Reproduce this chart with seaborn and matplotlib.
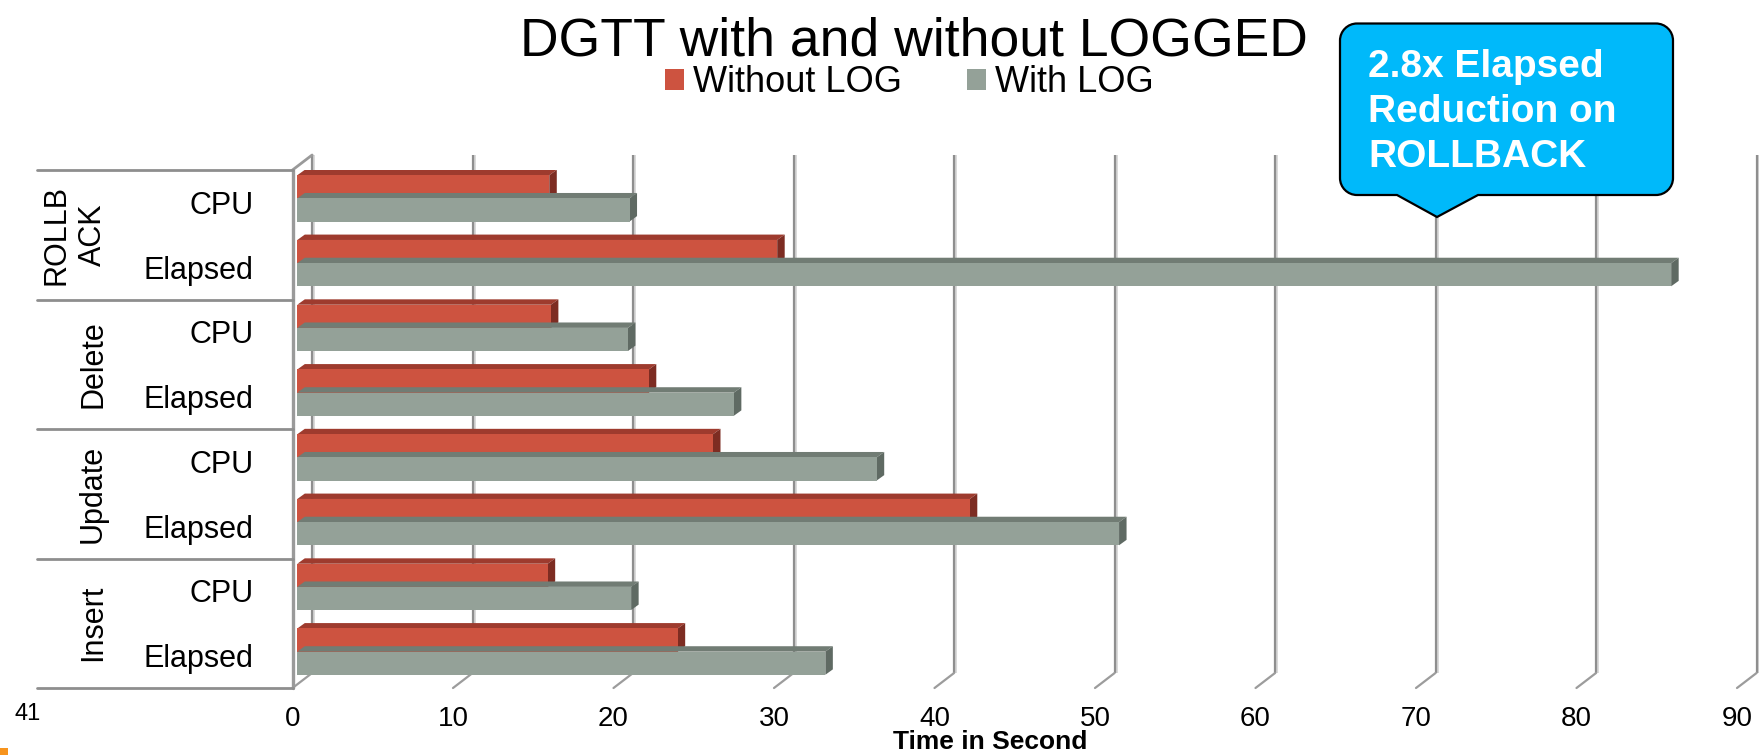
import matplotlib
matplotlib.use("Agg")
import matplotlib.pyplot as plt
import numpy as np
import pandas as pd
import seaborn as sns
from matplotlib.transforms import ScaledTranslation, Affine2D
from matplotlib.patches import Polygon, PathPatch, Rectangle
from matplotlib.path import Path

# ---- data -------------------------------------------------------------
groups = ["ROLLBACK", "Delete", "Update", "Insert"]
group_labels = ["ROLLB\nACK", "Delete", "Update", "Insert"]
metrics = ["CPU", "Elapsed"]
series = ["Without LOG", "With LOG"]
without_log = [15.7, 29.9, 15.8, 21.9, 25.9, 41.9, 15.6, 23.7]
with_log = [20.7, 85.6, 20.6, 27.2, 36.1, 51.2, 20.8, 32.9]
x_ticks = [0, 10, 20, 30, 40, 50, 60, 70, 80, 90]
callout_lines = ["2.8x Elapsed", "Reduction on", "ROLLBACK"]

# ---- style ------------------------------------------------------------
sns.set_style("white")
plt.rcParams["font.family"] = ["Liberation Sans", "DejaVu Sans"]
for key in ("text.color", "axes.labelcolor", "xtick.color", "ytick.color"):
    plt.rcParams[key] = "black"

RED = "#CD5340"
RED_TOP = "#9E3B2E"
RED_SIDE = "#7D2C22"
GREY = "#94A198"
GREY_TOP = "#717C74"
GREY_SIDE = "#5F6A63"
LINE = "#8E8E8E"
face_colors = {0: (RED, RED_TOP, RED_SIDE), 1: (GREY, GREY_TOP, GREY_SIDE)}

W, H = 1759, 755
fig = plt.figure(figsize=(W / 100, H / 100), dpi=100)
fig.patch.set_facecolor("white")

# front plane of the 3-D box (pixel geometry of the plot area)
AX_L, AX_R, AX_T, AX_B = 292.5, 1737.0, 170.0, 688.0
ax = fig.add_axes([AX_L / W, (H - AX_B) / H, (AX_R - AX_L) / W, (AX_B - AX_T) / H])
px_x = (AX_R - AX_L) / 90.0
px_y = (AX_B - AX_T) / 8.0

rows = [f"{g} {m}" for g in groups for m in metrics]
df = pd.DataFrame({
    "row": rows * 2,
    "seconds": without_log + with_log,
    "series": [series[0]] * len(rows) + [series[1]] * len(rows),
})

sns.barplot(data=df, x="seconds", y="row", hue="series", order=rows,
            hue_order=series, palette=[RED, GREY], saturation=1,
            width=0.715, orient="h", errorbar=None, linewidth=0,
            legend=True, ax=ax)

ax.set_xlim(0, 90)
ax.set_ylim(7.5, -0.5)
sns.despine(ax=ax, left=True, bottom=True)
ax.patch.set_alpha(0)

# depth offsets (inches) for the pseudo-3D look
bar_shift = ScaledTranslation(4.8 / 100, 4.0 / 100, fig.dpi_scale_trans)
back_shift = ScaledTranslation(19.6 / 100, 15.0 / 100, fig.dpi_scale_trans)
bar_dx = 7.5 / px_x
bar_dy = 5.4 / px_y
back_dx = 19.6 / px_x
back_dy = 15.0 / px_y

# bars: front face from seaborn, plus top and side faces
for i, cont in enumerate(ax.containers):
    front, top, side = face_colors[i]
    z = 2 + i
    for rect in cont.patches:
        x0, w = rect.get_x(), rect.get_width()
        yt, h = rect.get_y(), rect.get_height()
        yb = yt + h
        x1 = x0 + w
        rect.set_transform(ax.transData + bar_shift)
        rect.set_zorder(z + 0.5)
        top_face = Polygon([(x0, yt), (x1, yt), (x1 + bar_dx, yt - bar_dy),
                            (x0 + bar_dx, yt - bar_dy)], closed=True,
                           facecolor=top, edgecolor="none", zorder=z)
        side_face = Polygon([(x1, yt), (x1, yb), (x1 + bar_dx, yb - bar_dy),
                             (x1 + bar_dx, yt - bar_dy)], closed=True,
                            facecolor=side, edgecolor="none", zorder=z)
        for p in (top_face, side_face):
            p.set_transform(ax.transData + bar_shift)
            ax.add_patch(p)

# back-wall gridlines
ax.vlines(x_ticks, -0.5, 7.5, colors="#D2D2D2", linewidth=2.6, clip_on=False,
          transform=ax.transData + back_shift + ScaledTranslation(1.2 / 100, 0, fig.dpi_scale_trans),
          zorder=0.4)
ax.vlines(x_ticks, -0.5, 7.5, colors=LINE, linewidth=1.6, clip_on=False,
          transform=ax.transData + back_shift, zorder=0.5)

# floor diagonals at every tick
for v in x_ticks:
    ax.plot([v, v + back_dx], [7.5, 7.5 - back_dy], color="#9C9C9C",
            linewidth=1.6, clip_on=False, zorder=0.5)

# left wall: front edge and top edge
ax.plot([0, 0], [-0.5, 7.5], color="#9A9A9A", linewidth=2.4, clip_on=False, zorder=1)
ax.plot([0, back_dx], [-0.5, -0.5 - back_dy], color="#9A9A9A", linewidth=2.0,
        clip_on=False, zorder=1)

# category separators on the left
sep_x0 = (37 - AX_L) / (AX_R - AX_L)
ytrans = ax.get_yaxis_transform()
for yb in [-0.5, 1.5, 3.5, 5.5, 7.5]:
    ax.plot([sep_x0, 0], [yb, yb], color=LINE, linewidth=2.0,
            transform=ytrans, clip_on=False, zorder=1)

# group labels (rotated)
grp_x = (108 - AX_L) / (AX_R - AX_L)
for k, lab in enumerate(group_labels):
    ax.text(grp_x, 2 * k + 0.5, lab, transform=ytrans, rotation=90,
            ha="right", va="center", multialignment="center",
            fontsize=22, linespacing=1.3)

# axes ticks and labels
ax.set_yticks(range(len(rows)), labels=[r.split(" ")[-1] for r in rows])
ax.set_xticks(x_ticks, labels=[str(t) for t in x_ticks])
ax.tick_params(axis="y", length=0, pad=28, labelsize=22)
ax.tick_params(axis="x", length=0, pad=13, labelsize=20)
ax.set_ylabel("")
ax.set_xlabel("Time in Second", fontsize=19, fontweight="bold")
ax.xaxis.set_label_coords((990 - AX_L) / (AX_R - AX_L), (H - 730 - (H - AX_B)) / (AX_B - AX_T))
ax.xaxis.label.set_va("top")

# legend
sns.move_legend(ax, "center left", bbox_to_anchor=(665 / W, 1 - 82.5 / H),
                bbox_transform=fig.transFigure, ncol=2, title=None,
                frameon=False, fontsize=26, handlelength=0.53,
                handleheight=0.53, handletextpad=0.25, columnspacing=1.8,
                borderpad=0, borderaxespad=0)

# title
fig.text(914 / W, 1 - 56 / H, "DGTT with and without LOGGED", ha="center",
         va="baseline", fontsize=38.5, color="black")

# callout
px_to_fig = Affine2D().scale(1 / W, -1 / H).translate(0, 1) + fig.transFigure


def callout_path(l, t, r, b, rad, base_l, base_r, tip):
    k = 0.5523 * rad
    verts = [(l + rad, t), (r - rad, t),
             (r - rad + k, t), (r, t + rad - k), (r, t + rad),
             (r, b - rad),
             (r, b - rad + k), (r - rad + k, b), (r - rad, b),
             (base_r, b), tip, (base_l, b), (l + rad, b),
             (l + rad - k, b), (l, b - rad + k), (l, b - rad),
             (l, t + rad),
             (l, t + rad - k), (l + rad - k, t), (l + rad, t),
             (l + rad, t)]
    codes = ([Path.MOVETO, Path.LINETO] + [Path.CURVE4] * 3 + [Path.LINETO]
             + [Path.CURVE4] * 3 + [Path.LINETO] * 4 + [Path.CURVE4] * 3
             + [Path.LINETO] + [Path.CURVE4] * 3 + [Path.CLOSEPOLY])
    return Path(verts, codes)


bubble = PathPatch(callout_path(1340, 23.5, 1673, 195, 17, 1397, 1478, (1437, 217)),
                   facecolor="#00B9FA", edgecolor="black", linewidth=1.6,
                   transform=px_to_fig, zorder=5)
fig.add_artist(bubble)
for n, line in enumerate(callout_lines):
    fig.text(1368 / W, 1 - (76.7 + 45 * n) / H, line, ha="left", va="baseline",
             color="white", fontsize=28, fontweight="bold", zorder=6)

# page number and corner mark
fig.text(27.5 / W, 1 - 713.5 / H, "41", ha="center", va="center", fontsize=17)
fig.add_artist(Rectangle((0, 0), 8 / W, 7 / H, transform=fig.transFigure,
                         facecolor="#F7941D", edgecolor="none"))

fig.savefig("out.png", dpi=100, facecolor="white")
